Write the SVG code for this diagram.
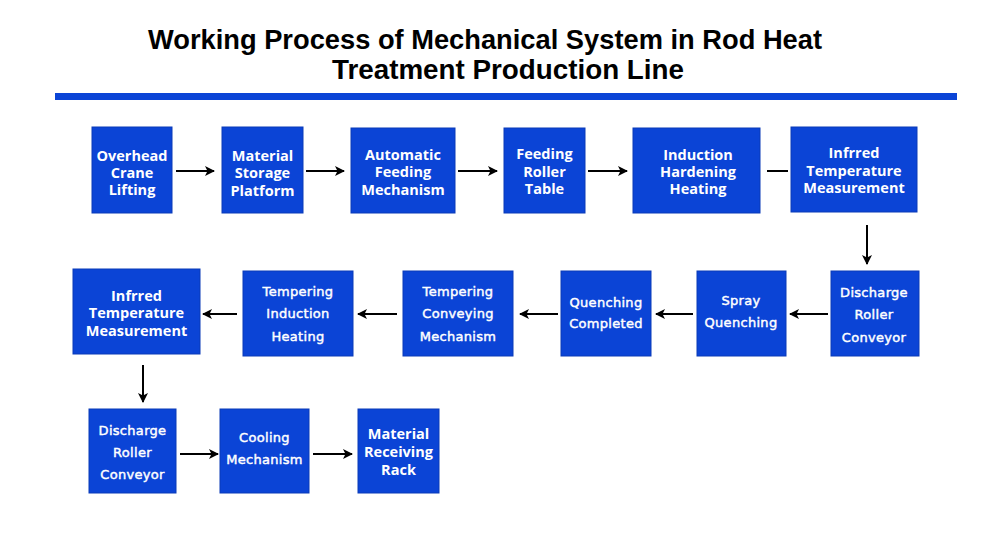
<svg xmlns="http://www.w3.org/2000/svg" width="1000" height="539" viewBox="0 0 1000 539">
<style>
.box{fill:#0b44d6;stroke:#0a3bb8;stroke-width:1}
.t{fill:#ffffff;font-family:"Open Sans","Liberation Sans",sans-serif;font-weight:bold;font-size:14.5px;text-anchor:middle}
.s{fill:#ffffff;stroke:#ffffff;stroke-width:0.45px;font-family:"DejaVu Sans","Liberation Sans",sans-serif;font-weight:normal;font-size:13px;text-anchor:middle;letter-spacing:0.3px}
.title{fill:#000000;font-family:"Liberation Sans Narrow","Liberation Sans",sans-serif;font-weight:bold;font-size:27px}
.c{stroke:#000000;stroke-width:2;fill:none}
</style>
<defs>
<marker id="ah" viewBox="0 0 10 10" refX="9" refY="5" markerWidth="10" markerHeight="10" markerUnits="userSpaceOnUse" orient="auto">
<path d="M0,0 L10,5 L0,10 L2.5,5 z" fill="#000000"/>
</marker>
</defs>
<rect width="1000" height="539" fill="#ffffff"/>
<g id="title">
<text class="title" x="148" y="49" textLength="674" lengthAdjust="spacingAndGlyphs">Working Process of Mechanical System in Rod Heat</text>
<text class="title" x="332" y="79" textLength="352" lengthAdjust="spacingAndGlyphs">Treatment Production Line</text>
<rect x="55" y="93" width="902" height="7" fill="#0b44d6"/>
</g>
<g id="connectors">
<line class="c" x1="176" y1="171" x2="214" y2="171" marker-end="url(#ah)"/>
<line class="c" x1="306" y1="171" x2="344" y2="171" marker-end="url(#ah)"/>
<line class="c" x1="458" y1="171" x2="497" y2="171" marker-end="url(#ah)"/>
<line class="c" x1="588" y1="171" x2="627" y2="171" marker-end="url(#ah)"/>
<line class="c" x1="767" y1="171" x2="788" y2="171"/>
<line class="c" x1="867" y1="225" x2="867" y2="264" marker-end="url(#ah)"/>
<line class="c" x1="828" y1="314" x2="790" y2="314" marker-end="url(#ah)"/>
<line class="c" x1="693" y1="314" x2="656" y2="314" marker-end="url(#ah)"/>
<line class="c" x1="558" y1="314" x2="520" y2="314" marker-end="url(#ah)"/>
<line class="c" x1="397" y1="314" x2="358" y2="314" marker-end="url(#ah)"/>
<line class="c" x1="237" y1="314" x2="203" y2="314" marker-end="url(#ah)"/>
<line class="c" x1="143" y1="365" x2="143" y2="402" marker-end="url(#ah)"/>
<line class="c" x1="180" y1="454" x2="218" y2="454" marker-end="url(#ah)"/>
<line class="c" x1="313" y1="454" x2="352" y2="454" marker-end="url(#ah)"/>
</g>
<g id="n1"><rect class="box" x="92" y="127" width="80" height="86"/>
<text class="t" x="132" y="161">Overhead</text><text class="t" x="132" y="178">Crane</text><text class="t" x="132" y="195">Lifting</text></g>
<g id="n2"><rect class="box" x="222" y="127" width="81" height="86"/>
<text class="t" x="262.5" y="161">Material</text><text class="t" x="262.5" y="178">Storage</text><text class="t" x="262.5" y="196">Platform</text></g>
<g id="n3"><rect class="box" x="351" y="128" width="104" height="85"/>
<text class="t" x="403" y="160">Automatic</text><text class="t" x="403" y="177">Feeding</text><text class="t" x="403" y="195">Mechanism</text></g>
<g id="n4"><rect class="box" x="504" y="128" width="81" height="85"/>
<text class="t" x="544.5" y="159">Feeding</text><text class="t" x="544.5" y="177">Roller</text><text class="t" x="544.5" y="194">Table</text></g>
<g id="n5"><rect class="box" x="633" y="128" width="127" height="85"/>
<text class="t" x="698" y="160">Induction</text><text class="t" x="698" y="177">Hardening</text><text class="t" x="698" y="194">Heating</text></g>
<g id="n6"><rect class="box" x="791" y="127" width="126" height="85"/>
<text class="t" x="854" y="158">Infrred</text><text class="t" x="854" y="176">Temperature</text><text class="t" x="854" y="193">Measurement</text></g>
<g id="n7"><rect class="box" x="831" y="271" width="88" height="85"/>
<text class="s" x="874" y="297">Discharge</text><text class="s" x="874" y="319">Roller</text><text class="s" x="874" y="342">Conveyor</text></g>
<g id="n8"><rect class="box" x="697" y="271" width="89" height="85"/>
<text class="s" x="741" y="305">Spray</text><text class="s" x="741" y="327">Quenching</text></g>
<g id="n9"><rect class="box" x="561" y="271" width="90" height="85"/>
<text class="s" x="606" y="307">Quenching</text><text class="s" x="606" y="328">Completed</text></g>
<g id="n10"><rect class="box" x="403" y="271" width="110" height="85"/>
<text class="s" x="458" y="296">Tempering</text><text class="s" x="458" y="318">Conveying</text><text class="s" x="458" y="341">Mechanism</text></g>
<g id="n11"><rect class="box" x="243" y="271" width="110" height="85"/>
<text class="s" x="298" y="296">Tempering</text><text class="s" x="298" y="318">Induction</text><text class="s" x="298" y="341">Heating</text></g>
<g id="n12"><rect class="box" x="73" y="269" width="127" height="85"/>
<text class="t" x="136.5" y="301">Infrred</text><text class="t" x="136.5" y="318">Temperature</text><text class="t" x="136.5" y="336">Measurement</text></g>
<g id="n13"><rect class="box" x="89" y="409" width="87" height="84"/>
<text class="s" x="132.5" y="435">Discharge</text><text class="s" x="132.5" y="457">Roller</text><text class="s" x="132.5" y="479">Conveyor</text></g>
<g id="n14"><rect class="box" x="220" y="409" width="89" height="84"/>
<text class="s" x="264.5" y="442">Cooling</text><text class="s" x="264.5" y="464">Mechanism</text></g>
<g id="n15"><rect class="box" x="358" y="409" width="81" height="84"/>
<text class="t" x="398.5" y="439">Material</text><text class="t" x="398.5" y="457">Receiving</text><text class="t" x="398.5" y="475">Rack</text></g>
</svg>
